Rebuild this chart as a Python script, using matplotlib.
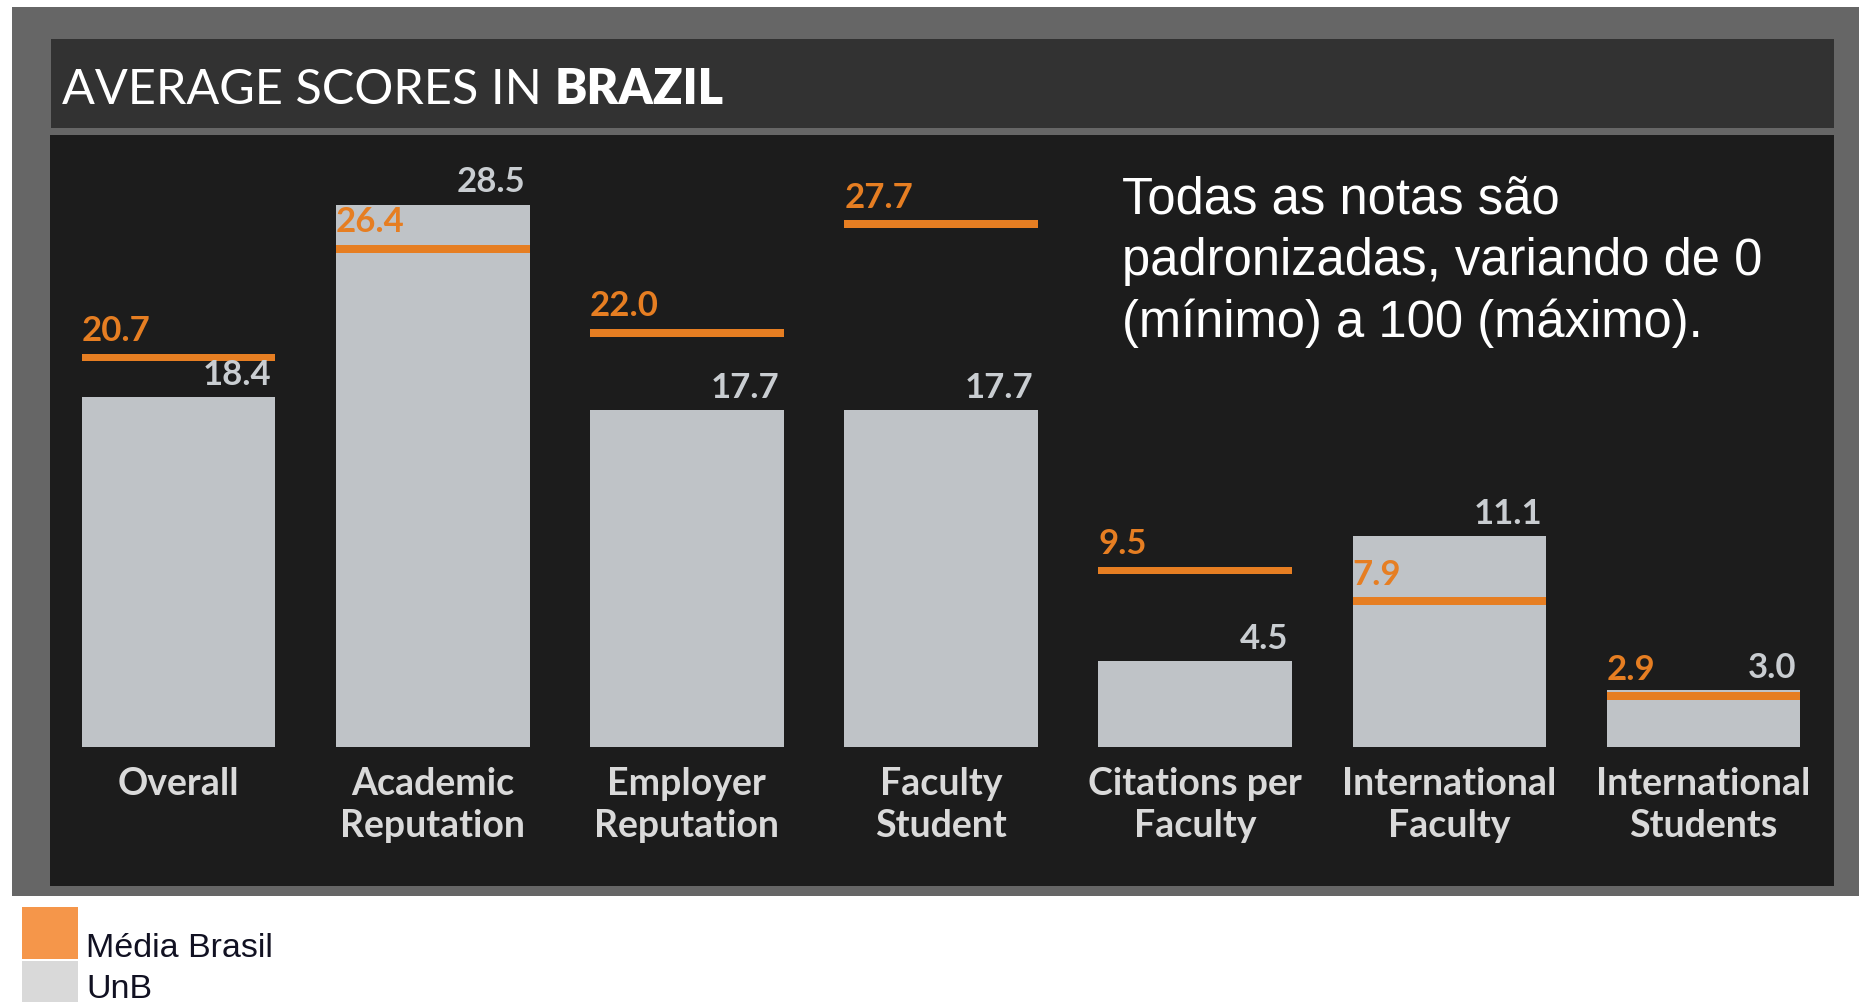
import numpy as np
import matplotlib.pyplot as plt
from matplotlib.patches import Rectangle

# %%	data										 |

categories = [
    "Overall",
    "Academic\nReputation",
    "Employer\nReputation",
    "Faculty\nStudent",
    "Citations per\nFaculty",
    "International\nFaculty",
    "International\nStudents",
]
unb = [18.4, 28.5, 17.7, 17.7, 4.5, 11.1, 3.0]
media_brasil = [20.7, 26.4, 22.0, 27.7, 9.5, 7.9, 2.9]

W, H = 1859, 1003
ORANGE = "#e67e22"
BAR = "#bfc3c7"


def fig_rect(x0, y0, x1, y1, color):
    # pixel box (top-left origin) -> figure patch
    fig.patches.append(Rectangle((x0 / W, 1 - y1 / H), (x1 - x0) / W, (y1 - y0) / H,
                                 transform=fig.transFigure, facecolor=color,
                                 edgecolor="none", zorder=0))


fig = plt.figure(figsize=(W / 100, H / 100), dpi=100, facecolor="white")

# %%	panels										 |

fig_rect(12, 8, W, 897, "#666666")
fig_rect(51, 40, 1834, 129, "#323232")
fig_rect(50, 136, 1834, 887, "#1c1c1c")

t = fig.text(62 / W, 1 - 104 / H, "AVERAGE SCORES IN ", color="white",
             fontsize=35, family="Lato", va="baseline")
fig.canvas.draw()
bb = t.get_window_extent(fig.canvas.get_renderer())
fig.text(bb.x1 / W, 1 - 104 / H, "BRAZIL", color="white", fontsize=35,
         family="Lato", fontweight="heavy", va="baseline")

# %%	bars										 |

ax = fig.add_axes([50 / W, 1 - 887 / H, (1834 - 50) / W, (887 - 136) / H])
ax.set_zorder(2)
ax.patch.set_alpha(0)
ax.axis("off")
ax.set_xlim(-0.5055, 6.513)
ax.set_ylim(-7.3, 32.16)

x = np.arange(len(categories))
bw = 0.762
ax.bar(x, unb, width=bw, color=BAR, zorder=2)
line_h = 0.4
ax.bar(x, line_h, bottom=np.array(media_brasil) - line_h - 0.03, width=bw,
       color=ORANGE, zorder=3)

for i in x:
    ax.annotate(f"{unb[i]:.1f}", (i + bw / 2, unb[i]), xytext=(-3, 9.5),
                textcoords="offset points", ha="right", va="baseline",
                color="#c9cdd1", fontsize=25, family="Lato", fontweight="bold",
                zorder=4)
    ax.annotate(f"{media_brasil[i]:.1f}", (i - bw / 2, media_brasil[i]), xytext=(0, 9.5),
                textcoords="offset points", ha="left", va="baseline",
                color=ORANGE, fontsize=25, family="Lato", fontweight="bold",
                zorder=4)
    ax.annotate(categories[i], (i, 0), xytext=(0, -13.5), textcoords="offset points",
                ha="center", va="top", color="#dadada", fontsize=27,
                family="Lato", fontweight="bold", linespacing=1.3)

fig.text(1122 / W, 1 - 175 / H,
         "Todas as notas são\npadronizadas, variando de 0\n(mínimo) a 100 (máximo).",
         color="white", fontsize=36.5, family="Liberation Sans", va="top",
         linespacing=1.33, zorder=3)

# %%	legend										 |

fig_rect(22, 908, 78, 960, "#f5964a")
fig_rect(22, 962, 78, 1010, "#d9d9d9")
fig.text(86 / W, 1 - 957 / H, "Média Brasil", color="#111122", fontsize=24.5,
         family="Liberation Sans", va="baseline")
fig.text(86 / W, 1 - 998 / H, "UnB", color="#111122", fontsize=24.5,
         family="Liberation Sans", va="baseline")

fig.savefig("out.png", dpi=100, facecolor="white")
